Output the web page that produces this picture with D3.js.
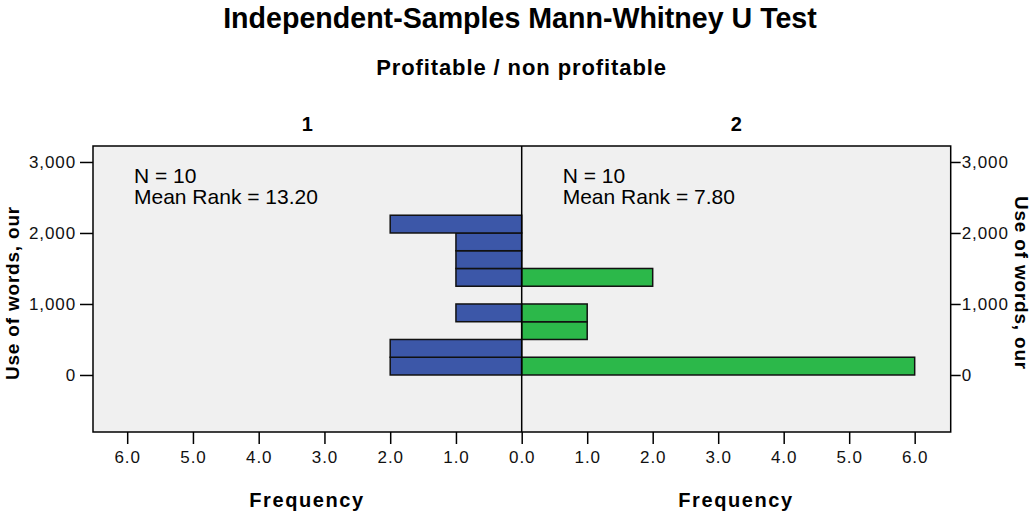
<!DOCTYPE html>
<html>
<head>
<meta charset="utf-8">
<script src="https://cdn.jsdelivr.net/npm/d3@7"></script>
<style>
  body { margin: 0; background: #fff; }
  text { font-family: Arial, "Liberation Sans", sans-serif; fill: #000; }
</style>
</head>
<body>
<div id="chart"></div>
<script>
// bins of "Use of words, our" (bin width 250)
var binStarts = [0, 250, 500, 750, 1000, 1250, 1500, 1750, 2000];
var binWidth = 250;
// frequencies per bin for each group
var group1Counts = [2, 2, 0, 1, 0, 1, 1, 1, 2];
var group2Counts = [6, 0, 1, 1, 0, 2, 0, 0, 0];
var groupNames = ["1", "2"];
var groupN = [10, 10];
var meanRanks = ["13.20", "7.80"];
var yTicks = [0, 1000, 2000, 3000];
var freqTicks = [0, 1, 2, 3, 4, 5, 6];

var W = 1033, H = 521;
var plot = { left: 93, right: 950.7, top: 146, bottom: 432, mid: 521.7 };

var svg = d3.select("#chart").append("svg")
    .attr("width", W)
    .attr("height", H);

// scales
var y = d3.scaleLinear().domain([-803, 3225]).range([plot.bottom, plot.top]);
var xL = d3.scaleLinear().domain([0, 6.52]).range([plot.mid, plot.left]);
var xR = d3.scaleLinear().domain([0, 6.55]).range([plot.mid, plot.right]);

// titles
svg.append("text")
    .attr("x", 520).attr("y", 28)
    .attr("text-anchor", "middle")
    .style("font-size", "28.6px").style("font-weight", "bold")
    .text("Independent-Samples Mann-Whitney U Test");

svg.append("text")
    .attr("x", 521.5).attr("y", 75)
    .attr("text-anchor", "middle")
    .style("font-size", "22px").style("font-weight", "bold")
    .style("letter-spacing", "0.9px")
    .text("Profitable / non profitable");

// panel labels
svg.selectAll(".panelLabel").data(groupNames).enter().append("text")
    .attr("class", "panelLabel")
    .attr("x", function(d, i) { return i == 0 ? (plot.left + plot.mid) / 2 : (plot.mid + plot.right) / 2; })
    .attr("y", 131)
    .attr("text-anchor", "middle")
    .style("font-size", "20px").style("font-weight", "bold")
    .text(function(d) { return d; });

// plot background + frame
svg.append("rect")
    .attr("x", plot.left).attr("y", plot.top)
    .attr("width", plot.right - plot.left).attr("height", plot.bottom - plot.top)
    .style("fill", "#f0f0f0")
    .style("stroke", "#000").style("stroke-width", 1.5);

// bars
function barData(counts) {
  return counts.map(function(c, i) { return { start: binStarts[i], count: c }; })
    .filter(function(d) { return d.count > 0; });
}

svg.selectAll(".bar1").data(barData(group1Counts)).enter().append("rect")
    .attr("class", "bar1")
    .attr("x", function(d) { return xL(d.count); })
    .attr("y", function(d) { return y(d.start + binWidth); })
    .attr("width", function(d) { return xL(0) - xL(d.count); })
    .attr("height", function(d) { return y(d.start) - y(d.start + binWidth); })
    .style("fill", "#3c57a8")
    .style("stroke", "#111").style("stroke-width", 1.5);

svg.selectAll(".bar2").data(barData(group2Counts)).enter().append("rect")
    .attr("class", "bar2")
    .attr("x", xR(0))
    .attr("y", function(d) { return y(d.start + binWidth); })
    .attr("width", function(d) { return xR(d.count) - xR(0); })
    .attr("height", function(d) { return y(d.start) - y(d.start + binWidth); })
    .style("fill", "#2cb84a")
    .style("stroke", "#111").style("stroke-width", 1.5);

// center line
svg.append("line")
    .attr("x1", plot.mid).attr("x2", plot.mid)
    .attr("y1", plot.top).attr("y2", plot.bottom)
    .style("stroke", "#000").style("stroke-width", 1.5);

// N / mean rank annotations
[0, 1].forEach(function(i) {
  var x0 = (i == 0 ? plot.left : plot.mid) + 41;
  var t = svg.append("text").style("font-size", "21px");
  t.append("tspan").attr("x", x0).attr("y", 183).text("N = " + groupN[i]);
  t.append("tspan").attr("x", x0).attr("y", 204).text("Mean Rank = " + meanRanks[i]);
});

// y axes
var yLeft = svg.append("g")
    .attr("transform", "translate(" + plot.left + ",0)")
    .call(d3.axisLeft(y).tickValues(yTicks).tickFormat(d3.format(",")).tickSize(13).tickPadding(4));
var yRight = svg.append("g")
    .attr("transform", "translate(" + plot.right + ",0)")
    .call(d3.axisRight(y).tickValues(yTicks).tickFormat(d3.format(",")).tickSize(10).tickPadding(1));

// x axes
var xLeftAxis = svg.append("g")
    .attr("transform", "translate(0," + plot.bottom + ")")
    .call(d3.axisBottom(xL).tickValues(freqTicks).tickFormat(d3.format(".1f")).tickSize(12).tickPadding(7));
var xRightAxis = svg.append("g")
    .attr("transform", "translate(0," + plot.bottom + ")")
    .call(d3.axisBottom(xR).tickValues(freqTicks.slice(1)).tickFormat(d3.format(".1f")).tickSize(12).tickPadding(7));

[yLeft, yRight, xLeftAxis, xRightAxis].forEach(function(g) {
  g.select(".domain").remove();
  g.selectAll("line").style("stroke", "#000").style("stroke-width", 1.5);
  g.selectAll("text")
    .style("font-family", "Arial, 'Liberation Sans', sans-serif")
    .style("font-size", "17px")
    .style("letter-spacing", "0.9px")
    .style("fill", "#111");
});

// axis titles
svg.append("text")
    .attr("transform", "translate(19,293) rotate(-90)")
    .attr("text-anchor", "middle")
    .style("font-size", "19px").style("font-weight", "bold")
    .style("letter-spacing", "0.8px")
    .text("Use of words, our");

svg.append("text")
    .attr("transform", "translate(1015,283) rotate(90)")
    .attr("text-anchor", "middle")
    .style("font-size", "19px").style("font-weight", "bold")
    .style("letter-spacing", "0.8px")
    .text("Use of words, our");

svg.selectAll(".freqLabel").data([0, 1]).enter().append("text")
    .attr("class", "freqLabel")
    .attr("x", function(d) { return d == 0 ? 307 : 736; })
    .attr("y", 507)
    .attr("text-anchor", "middle")
    .style("font-size", "20px").style("font-weight", "bold")
    .style("letter-spacing", "1.6px")
    .text("Frequency");
</script>
</body>
</html>
